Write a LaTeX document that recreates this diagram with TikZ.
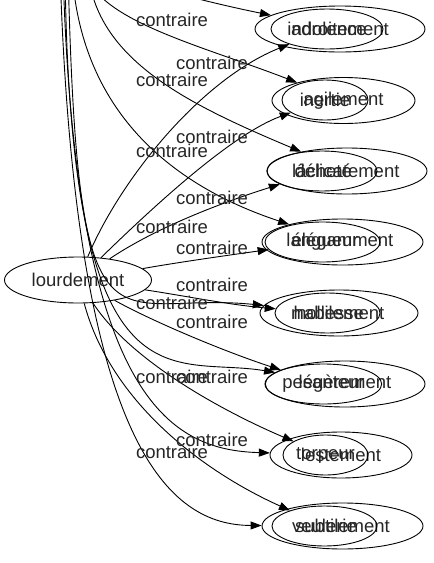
\documentclass[tikz,border=0pt]{standalone}
\usepackage{fontspec}
\setmainfont{Liberation Sans}
\usetikzlibrary{shapes.geometric,arrows.meta}
\tikzset{
  gnode/.style={ellipse, draw, line width=0.9pt, inner sep=0pt, text=black!85, font=\fontsize{18.5}{20}\selectfont},
  bignd/.style={gnode, minimum height=46pt},
  smallnd/.style={gnode, minimum height=40pt},
  conn/.style={draw, line width=0.9pt, -{Triangle[length=11pt,width=8pt]}},
  lab/.style={font=\fontsize{18.5}{20}\selectfont, text=black!85, inner sep=0pt},
}
\begin{document}
\begin{tikzpicture}[x=1pt,y=-1pt]
\path[use as bounding box] (0,0) rectangle (434,563);
\clip (0,0) rectangle (434,563);

% source node
\node[gnode, minimum width=147pt, minimum height=46pt] (L) at (78,280) {lourdement};

% large nodes
\node[bignd, minimum width=170pt] (G1) at (340,29) {adroitement};
\node[bignd, minimum width=143pt] (G2) at (343.5,100.5) {agilement};
\node[bignd, minimum width=160pt] (G3) at (347,171) {délicatement};
\node[bignd, minimum width=161pt] (G4) at (342.5,242) {élégamment};
\node[bignd, minimum width=158pt] (G5) at (339,313) {habilement};
\node[bignd, minimum width=160pt] (G6) at (345,384) {légèrement};
\node[bignd, minimum width=142pt] (G7) at (341,455) {lestement};
\node[bignd, minimum width=161pt] (G8) at (342.5,526) {subtilement};

% small nodes
\node[smallnd, minimum width=112pt] (S1) at (327,29) {indolence};
\node[smallnd, minimum width=86pt] (S2) at (325,100) {inertie};
\node[smallnd, minimum width=110pt] (S3) at (322,171) {lâcheté};
\node[smallnd, minimum width=115pt] (S4) at (322.5,242) {langueur};
\node[smallnd, minimum width=105pt] (S5) at (327.5,313) {mollesse};
\node[smallnd, minimum width=113pt] (S6) at (323.5,384) {pesanteur};
\node[smallnd, minimum width=85pt] (S7) at (325.5,455) {torpeur};
\node[smallnd, minimum width=105pt] (S8) at (324.5,526) {veulerie};

% free ends above the picture
\coordinate (t1) at (100,-30);
\coordinate (t2) at (85,-30);
\coordinate (t3) at (88,-30);
\coordinate (t4) at (72,-30);
\coordinate (t5) at (68,-30);
\coordinate (t6) at (65,-30);
\coordinate (t7) at (63,-30);
\coordinate (t8) at (60,-30);

% connectors from above
\draw[conn] (t1) .. controls (150,-12) and (220,5) .. (G1);
\draw[conn] (t2) .. controls (95,20) and (200,45) .. (G2);
\draw[conn] (t3) .. controls (95,60) and (190,105) .. (G3);
\draw[conn] (t4) .. controls (80,110) and (170,185) .. (G4);
\draw[conn] (t5) .. controls (78,380) and (110,290) .. (G5);
\draw[conn] (t6) .. controls (70,420) and (170,355) .. (G6);
\draw[conn] (t7) .. controls (75,400) and (170,450) .. (G7);
\draw[conn] (t8) .. controls (75,450) and (170,525) .. (G8);

% connectors from lourdement
\draw[conn] (L) .. controls (120,180) and (200,80) .. (S1);
\draw[conn] (L) .. controls (150,210) and (230,135) .. (S2);
\draw[conn] (L) .. controls (160,225) and (230,200) .. (S3);
\draw[conn] (L) .. controls (180,262) and (230,255) .. (S4);
\draw[conn] (L) .. controls (180,295) and (230,305) .. (S5);
\draw[conn] (L) .. controls (150,320) and (220,350) .. (S6);
\draw[conn] (L) .. controls (130,360) and (220,410) .. (S7);
\draw[conn] (L) .. controls (110,400) and (200,470) .. (S8);

% labels
\node[lab] (c1) at (172,20) {contraire};
\node[lab] (c2) at (212,63) {contraire};
\node[lab] (c3) at (172,80) {contraire};
\node[lab] (c4) at (212,137) {contraire};
\node[lab] (c5) at (172,151) {contraire};
\node[lab] (c6) at (212,198) {contraire};
\node[lab] (c7) at (172,227) {contraire};
\node[lab] (c8) at (212,248) {contraire};
\node[lab] (c9) at (212,285) {contraire};
\node[lab] (c10) at (172,303) {contraire};
\node[lab] (c11) at (212,322) {contraire};
\node[lab] (c12) at (212,377) {contraire};
\node[lab] (c13) at (172,377) {contraire};
\node[lab] (c14) at (212,440) {contraire};
\node[lab] (c15) at (172,452) {contraire};
\end{tikzpicture}
\end{document}
